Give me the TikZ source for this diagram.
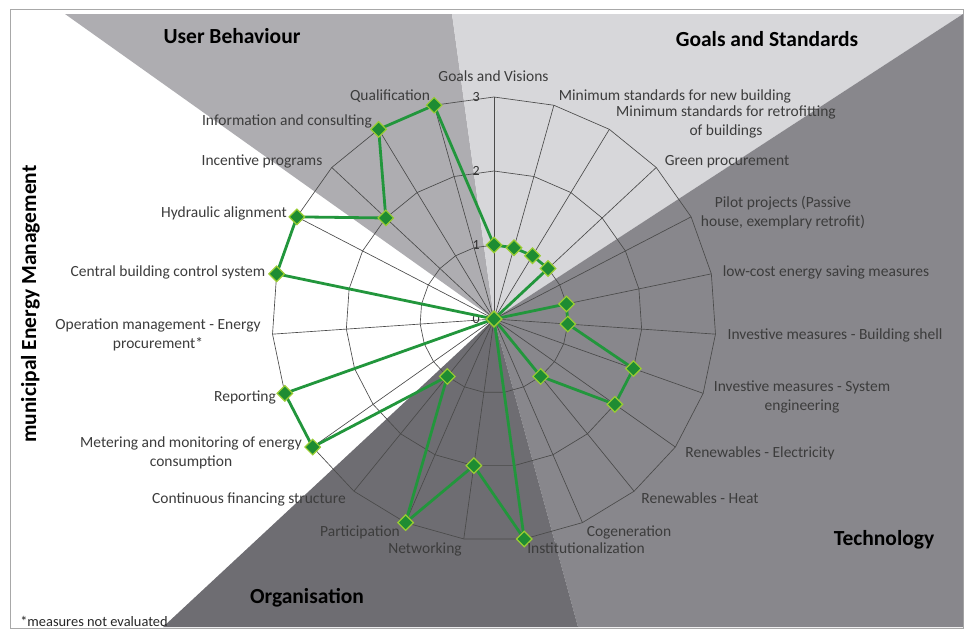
\documentclass[tikz,border=0pt]{standalone}
\usepackage{fontspec}
\setmainfont{Carlito}
\usetikzlibrary{shapes.geometric}
\definecolor{ubgray}{HTML}{AEADB1}
\definecolor{gsgray}{HTML}{D7D7DA}
\definecolor{tegray}{HTML}{88878C}
\definecolor{orgray}{HTML}{6E6D72}
\definecolor{gridc}{HTML}{4A4A4A}
\definecolor{lblc}{HTML}{3C3C3C}
\definecolor{linegreen}{HTML}{22963C}
\definecolor{mkfill}{HTML}{1E8C32}
\definecolor{mkedge}{HTML}{9ACD32}
\definecolor{framec}{HTML}{A8A8A8}
\begin{document}
\begin{tikzpicture}[x=1pt,y=-1pt,
 lbl/.style={font=\fontsize{15.5}{19}\selectfont, text=lblc, inner sep=0pt, anchor=base},
 cat/.style={font=\fontsize{21.5}{24}\selectfont\bfseries, text=black, inner sep=0pt, anchor=base},
 tick/.style={font=\fontsize{14}{16}\selectfont, text=black!80, inner sep=0pt, anchor=east},
 gridline/.style={draw=gridc, line width=0.65pt},
 series/.style={draw=linegreen, line width=2.8pt, line join=round},
 marker/.style={diamond, fill=mkfill, draw=mkedge, line width=1.2pt, minimum width=16pt, minimum height=16pt, inner sep=0pt}
]
\useasboundingbox (0,0) rectangle (964,630);
\fill[white] (0,0) rectangle (964,630);
% frame
\draw[framec, line width=1pt] (10.5,9.5) rectangle (963.5,628);
% sectors
\coordinate (O) at (494,319);
\fill[ubgray] (O) -- (65,14) -- (452,14) -- cycle;
\fill[gsgray] (O) -- (452,14) -- (963,14) -- cycle;
\fill[tegray] (O) -- (963,14) -- (963,627) -- (578,627) -- cycle;
\fill[orgray] (O) -- (578,627) -- (163,627) -- cycle;
% axes
\foreach \k in {0,...,22} {
  \pgfmathsetmacro\a{90-\k*360/23}
  \coordinate (ax\k) at ({494+222*cos(\a)},{319-222*sin(\a)});
  \draw[gridline] (O) -- (ax\k);
}
% rings
\foreach \r in {74,148,222} {
  \draw[gridline] (494,{319-\r}) \foreach \k in {1,...,22}{ -- ({494+\r*cos(90-\k*360/23)},{319-\r*sin(90-\k*360/23)}) } -- cycle;
}
% tick labels
\node[tick] (t0) at (480,319) {0};
\node[tick] (t1) at (480,245) {1};
\node[tick] (t2) at (480,171) {2};
\node[tick] (t3) at (480,97) {3};
% data
\foreach \v [count=\i from 0] in {1,1,1,1,0,1,1,2,2,1,0,3,2,3,1,3,3,0,3,3,2,3,3} {
  \pgfmathsetmacro\a{90-\i*360/23}
  \coordinate (d\i) at ({494+74*\v*cos(\a)},{319-74*\v*sin(\a)});
}
\draw[series] (d0) \foreach \i in {1,...,22}{ -- (d\i) } -- cycle;
\foreach \i in {0,...,22} { \node[marker] (m\i) at (d\i) {}; }
% axis labels
\node[lbl] (l0) at (493.5,81) {Goals and Visions};
\node[lbl] (l1) at (675,100) {Minimum standards for new building};
\node[lbl] (l2) at (726,116) {\begin{tabular}[t]{@{}c@{}}Minimum standards for retrofitting\\of buildings\end{tabular}};
\node[lbl] (l3) at (727,165) {Green procurement};
\node[lbl] (l4) at (783,207) {\begin{tabular}[t]{@{}c@{}}Pilot projects (Passive\\house, exemplary retrofit)\end{tabular}};
\node[lbl] (l5) at (826,276) {low-cost energy saving measures};
\node[lbl] (l6) at (835,339) {Investive measures - Building shell};
\node[lbl] (l7) at (802,391) {\begin{tabular}[t]{@{}c@{}}Investive measures - System\\engineering\end{tabular}};
\node[lbl] (l8) at (760,457) {Renewables - Electricity};
\node[lbl] (l9) at (700,503) {Renewables - Heat};
\node[lbl] (l10) at (629,536) {Cogeneration};
\node[lbl] (l11) at (586,553) {Institutionalization};
\node[lbl] (l12) at (425,553) {Networking};
\node[lbl] (l13) at (360,536) {Participation};
\node[lbl] (l14) at (249,503) {Continuous financing structure};
\node[lbl] (l15) at (191,447) {\begin{tabular}[t]{@{}c@{}}Metering and monitoring of energy\\consumption\end{tabular}};
\node[lbl] (l16) at (245,401) {Reporting};
\node[lbl] (l17) at (158,329) {\begin{tabular}[t]{@{}c@{}}Operation management - Energy\\procurement*\end{tabular}};
\node[lbl] (l18) at (168,276) {Central building control system};
\node[lbl] (l19) at (224,217) {Hydraulic alignment};
\node[lbl] (l20) at (262,165) {Incentive programs};
\node[lbl] (l21) at (287,125) {Information and consulting};
\node[lbl] (l22) at (390,100) {Qualification};
% category titles
\node[cat] (cUB) at (232,43) {User Behaviour};
\node[cat] (cGS) at (767,46) {Goals and Standards};
\node[cat] (cTE) at (884,545) {Technology};
\node[cat] (cOR) at (307,603) {Organisation};
\node[cat, rotate=90] (cME) at (36,304) {municipal Energy Management};
\node[font=\fontsize{14.4}{17}\selectfont, text=black!85, inner sep=0pt, anchor=base] (note) at (94,626) {*measures not evaluated};
\end{tikzpicture}
\end{document}
